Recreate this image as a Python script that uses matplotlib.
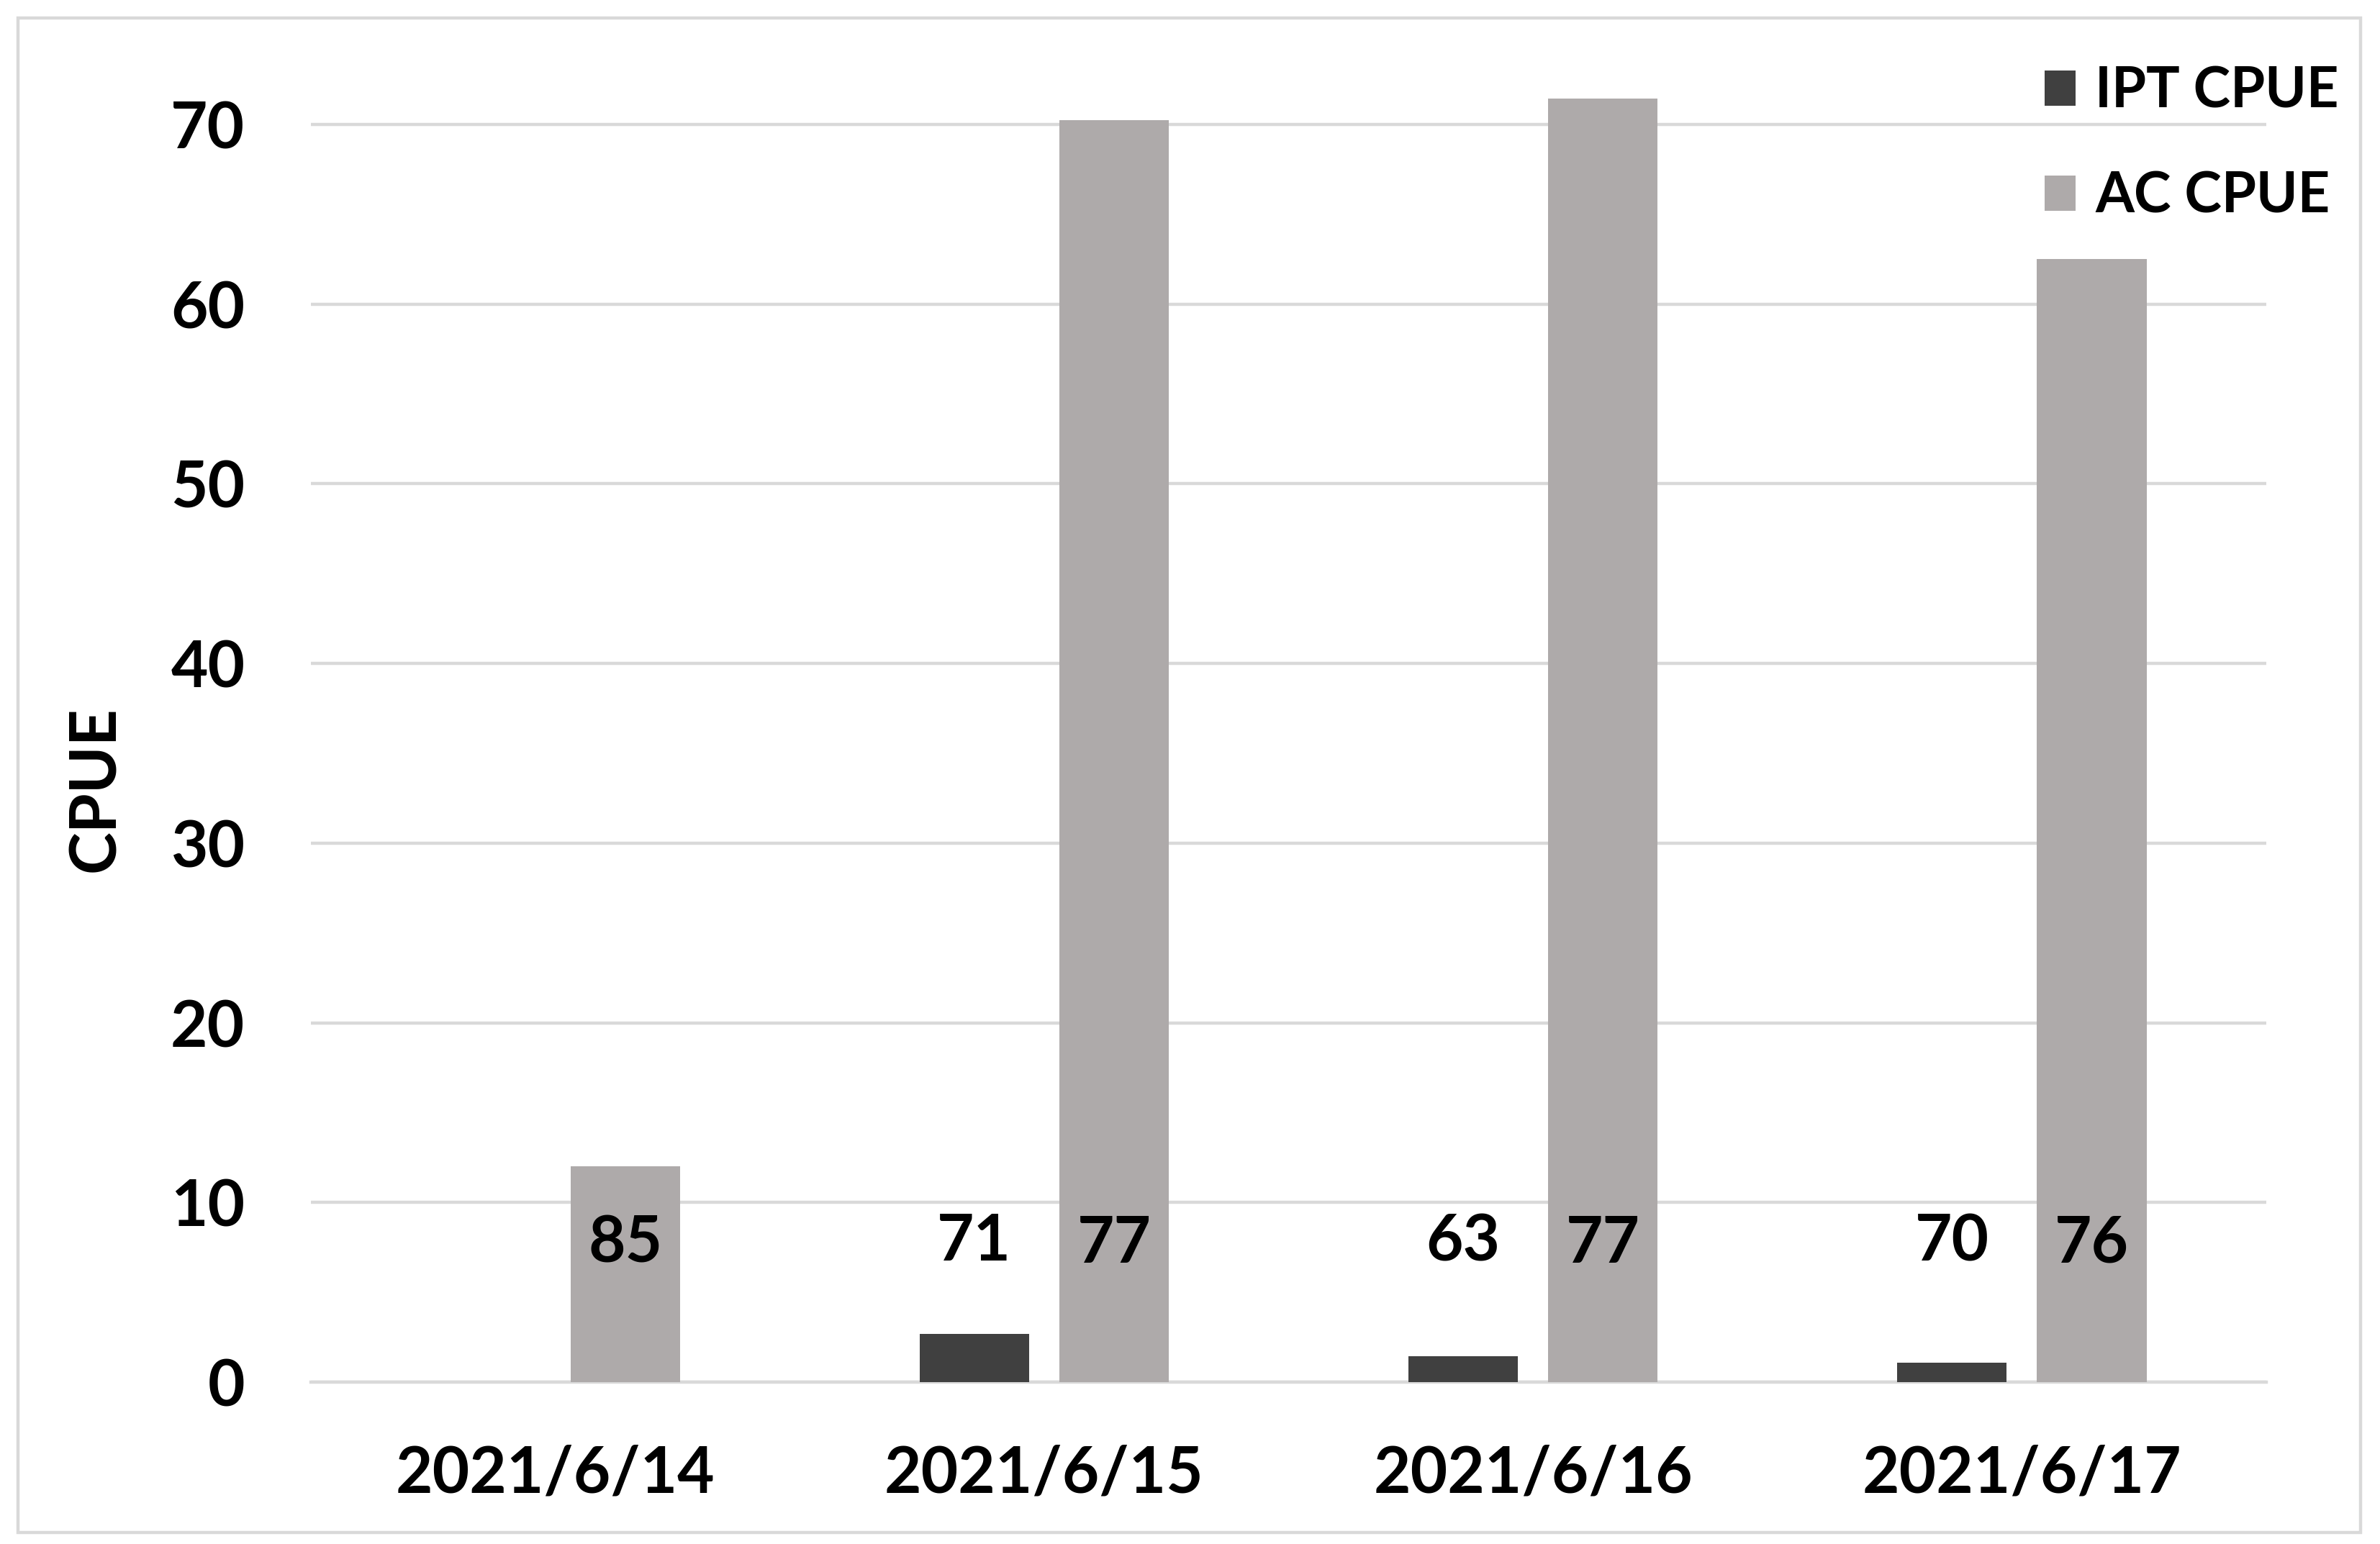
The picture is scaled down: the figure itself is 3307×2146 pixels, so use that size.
import matplotlib
matplotlib.use("Agg")
import matplotlib.pyplot as plt
from matplotlib.patches import Rectangle
import numpy as np

dates = ["2021/6/14", "2021/6/15", "2021/6/16", "2021/6/17"]
ipt_cpue = [0.0, 2.7, 1.45, 1.08]
ac_cpue = [12.0, 70.25, 71.45, 62.5]
ipt_n = [None, "71", "63", "70"]
ac_n = ["85", "77", "77", "76"]
yticks = [0, 10, 20, 30, 40, 50, 60, 70]

FONT = ["Lato", "DejaVu Sans"]
plt.rcParams['font.family'] = FONT
plt.rcParams['font.weight'] = 'bold'
FS = 64
LFS = 56

W, H = 3307, 2146
fig = plt.figure(figsize=(W / 100, H / 100), dpi=100)
ax = fig.add_axes([432 / W, 1 - 1921 / H, (3149 - 432) / W, (1921 - 48) / H])

x = np.arange(len(dates))
bw = 0.224
off = 0.143
ipt_col = "#404040"
ac_col = "#AEAAAA"
ax.bar(x - off, ipt_cpue, bw, color=ipt_col, label="IPT CPUE", zorder=3)
ax.bar(x + off, ac_cpue, bw, color=ac_col, label="AC CPUE", zorder=3)

for i in range(len(dates)):
    if ipt_n[i]:
        ax.text(x[i] - off, 7.8, ipt_n[i], ha="center", va="center",
                fontsize=FS, fontweight="bold", zorder=4)
    ax.text(x[i] + off, 7.7, ac_n[i], ha="center", va="center",
            fontsize=FS, fontweight="bold", zorder=4)

ax.set_xlim(-0.5, len(dates) - 0.5)
ax.set_ylim(0, 75)
ax.set_yticks(yticks)
ax.set_xticks(x)
ax.set_xticklabels(dates)
ax.tick_params(axis="both", length=0, labelsize=FS)
ax.tick_params(axis="x", pad=62)
ax.tick_params(axis="y", pad=66)
for lab in ax.get_xticklabels() + ax.get_yticklabels():
    lab.set_fontweight("bold")
ax.grid(axis="y", color="#D9D9D9", linewidth=3.2, zorder=0)
ax.set_axisbelow(True)
for s in ["top", "right", "left"]:
    ax.spines[s].set_visible(False)
ax.spines["bottom"].set_color("#D9D9D9")
ax.spines["bottom"].set_linewidth(3.2)
ax.spines["bottom"].set_zorder(1)

fig.text(133 / W, 1 - 1097 / H, "CPUE", rotation=90, ha="center", va="center",
         fontsize=FS, fontweight="bold")

leg = fig.legend(loc="upper left", bbox_to_anchor=(2841 / W, 1 - 92 / H),
                 frameon=False, fontsize=LFS, handlelength=0.55, handleheight=0.6,
                 handletextpad=0.35, labelspacing=0.95, borderaxespad=0, borderpad=0)
for t in leg.get_texts():
    t.set_fontweight("bold")

fig.patches.append(Rectangle((25 / W, 1 - 2130 / H), (3280 - 25) / W, (2130 - 25) / H,
                             transform=fig.transFigure, fill=False,
                             edgecolor="#D9D9D9", linewidth=3.2, zorder=0))

fig.savefig("out.png", dpi=100, facecolor="white")
